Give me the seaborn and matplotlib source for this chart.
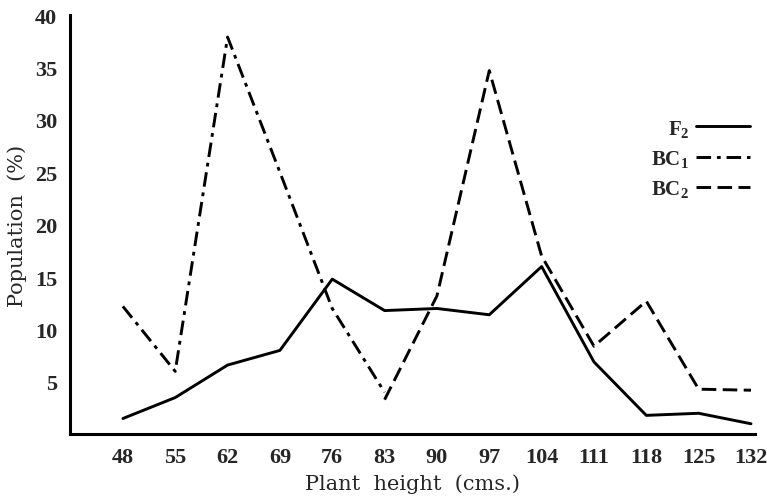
import pandas as pd
import matplotlib
matplotlib.use("Agg")
import matplotlib.pyplot as plt
import seaborn as sns

# dados
heights = [48, 55, 62, 69, 76, 83, 90, 97, 104, 111, 118, 125, 132]
f2 = [1.5, 3.5, 6.6, 8.0, 14.8, 11.8, 12.0, 11.4, 16.0, 6.9, 1.8, 2.0, 1.0]
bc1_heights = [48, 55, 62, 69, 76, 83]
bc1 = [12.2, 6.0, 37.9, 25.0, 12.0, 4.0]
bc2_heights = [83, 90, 97, 104, 111, 118, 125, 132]
bc2 = [3.3, 13.2, 34.7, 17.0, 8.4, 12.7, 4.3, 4.2]

labels = ["F$_2$", "BC$_1$", "BC$_2$"]
yticks = [5, 10, 15, 20, 25, 30, 35, 40]

df = pd.concat([
    pd.DataFrame({"height": heights, "pct": f2, "serie": labels[0]}),
    pd.DataFrame({"height": bc1_heights, "pct": bc1, "serie": labels[1]}),
    pd.DataFrame({"height": bc2_heights, "pct": bc2, "serie": labels[2]}),
], ignore_index=True)

sns.set_style("white")
plt.rcParams["font.family"] = ["Liberation Serif", "DejaVu Serif"]
plt.rcParams["mathtext.fontset"] = "custom"
plt.rcParams["mathtext.rm"] = "Liberation Serif:bold"
plt.rcParams["mathtext.it"] = "Liberation Serif:bold"
plt.rcParams["mathtext.bf"] = "Liberation Serif:bold"

fig, ax = plt.subplots(figsize=(7.67, 5.02), dpi=100)
fig.subplots_adjust(left=0.091, right=0.984, top=0.968, bottom=0.133)

estilos = {labels[0]: "", labels[1]: (5, 2.0, 1.3, 2.0), labels[2]: (5, 2.2)}
sns.lineplot(data=df, x="height", y="pct", style="serie", dashes=estilos,
             color="black", lw=2.1, estimator=None, sort=True, ax=ax)

ax.set_xlim(40.9, 132.5)
ax.set_ylim(0, 40)
ax.set_xticks(heights)
ax.set_yticks(yticks)
ax.tick_params(direction="in", length=3, width=1.2, labelsize=16, pad=9)
for t in ax.get_xticklabels() + ax.get_yticklabels():
    t.set_fontweight("bold")

for s in ["top", "right"]:
    ax.spines[s].set_visible(False)
for s in ["left", "bottom"]:
    ax.spines[s].set_linewidth(2.2)
    ax.spines[s].set_color("black")

ax.set_xlabel("Plant  height  (cms.)", fontsize=15, labelpad=5,
              family="DejaVu Serif")
ax.set_ylabel("Population  (%)", fontsize=15, labelpad=6,
              family="DejaVu Serif")

leg = ax.legend(markerfirst=False, frameon=False, loc="upper right",
                bbox_to_anchor=(1.02, 0.80), handlelength=2.6,
                handletextpad=0.3, labelspacing=0.45,
                prop={"size": 15, "weight": "bold"})

fig.savefig("out.png", dpi=100)
